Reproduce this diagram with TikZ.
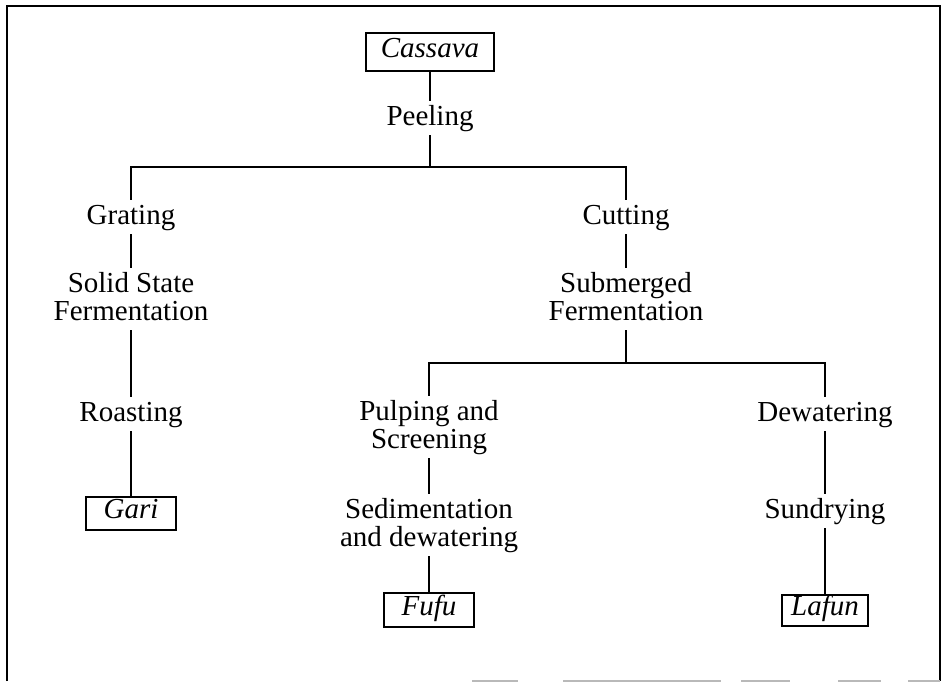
\documentclass[tikz,border=0pt]{standalone}
\usepackage{fontspec}
\setmainfont{Liberation Serif}
\begin{document}
\begin{tikzpicture}[x=0.75pt,y=-0.75pt,
  every node/.style={font=\fontsize{21.75}{21}\selectfont},
  lbl/.style={inner sep=0pt, text height=18pt, text depth=7.5pt, anchor=base},
  lbltwo/.style={inner sep=0pt, text height=18pt, text depth=28.5pt, anchor=base},
  prod/.style={draw, line width=1pt, inner sep=0pt, text height=14pt, text depth=6.5pt,
    font=\fontsize{21.75}{21}\selectfont\itshape},
  conn/.style={line width=1.7pt},
  frame/.style={line width=1.8pt},
  faint/.style={line width=1.2pt, draw=gray!55}]
\useasboundingbox (0,0) rectangle (944,683);
% frame
\draw[frame] (7,681) -- (7,6) -- (940,6) -- (940,681);
\draw[faint] (472,681) -- (518,681);
\draw[faint] (563,681) -- (721,681);
\draw[faint] (741,681) -- (790,681);
\draw[faint] (838,681) -- (881,681);
\draw[faint] (908,681) -- (940,681);
% nodes
\node[prod, minimum width=96pt, minimum height=28.5pt] (cas) at (430,52) {Cassava};
\node[lbl] (peel) at (430,125) {Peeling};
\coordinate (j1) at (430,167);
\node[lbl] (grat) at (131,224) {Grating};
\node[lbl] (cut) at (626,224) {Cutting};
\node[lbltwo] (ssf) at (131,292) {\begin{tabular}[t]{@{}c@{}}Solid State\\Fermentation\end{tabular}};
\node[lbltwo] (subm) at (626,292) {\begin{tabular}[t]{@{}c@{}}Submerged\\Fermentation\end{tabular}};
\node[lbl] (roast) at (131,421) {Roasting};
\node[prod, minimum width=67.5pt, minimum height=24.75pt] (gari) at (131,513.5) {Gari};
\coordinate (j2) at (626,363);
\node[lbltwo] (pulp) at (429,420) {\begin{tabular}[t]{@{}c@{}}Pulping and\\Screening\end{tabular}};
\node[lbltwo] (sed) at (429,518) {\begin{tabular}[t]{@{}c@{}}Sedimentation\\and dewatering\end{tabular}};
\node[prod, minimum width=67.5pt, minimum height=25.5pt] (fufu) at (429,610) {Fufu};
\node[lbl] (dewat) at (825,421) {Dewatering};
\node[lbl] (sund) at (825,518) {Sundrying};
\node[prod, minimum width=64.5pt, minimum height=23.25pt] (lafun) at (825,610.5) {Lafun};
% connectors
\draw[conn] (cas.south) -- (peel.north);
\draw[conn] (peel.south) -- (j1);
\draw[conn] (j1) -| (grat.north);
\draw[conn] (j1) -| (cut.north);
\draw[conn] (grat.south) -- (ssf.north);
\draw[conn] (ssf.south) -- (roast.north);
\draw[conn] (roast.south) -- (gari.north);
\draw[conn] (cut.south) -- (subm.north);
\draw[conn] (subm.south) -- (j2);
\draw[conn] (j2) -| (pulp.north);
\draw[conn] (j2) -| (dewat.north);
\draw[conn] (pulp.south) -- (sed.north);
\draw[conn] (sed.south) -- (fufu.north);
\draw[conn] (dewat.south) -- (sund.north);
\draw[conn] (sund.south) -- (lafun.north);
\end{tikzpicture}
\end{document}
